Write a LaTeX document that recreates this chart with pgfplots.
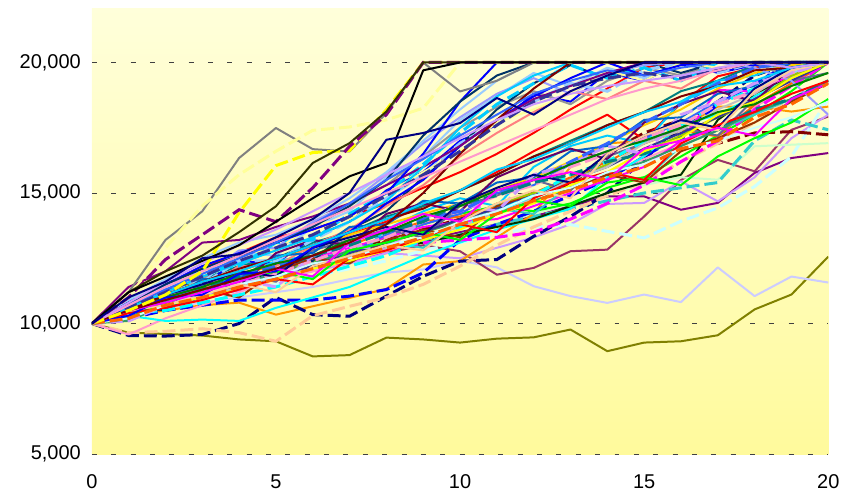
\documentclass[border=0pt]{standalone}
\usepackage{fontspec}
\setmainfont{Liberation Sans}
\usepackage{pgfplots}
\usepackage{pgfplotstable}
\pgfplotsset{compat=1.18}

% colours of the simulated paths
\definecolor{x808000}{HTML}{808000}\definecolor{xCCCCFF}{HTML}{CCCCFF}
\definecolor{x993366}{HTML}{993366}\definecolor{x800080}{HTML}{800080}
\definecolor{xCC99FF}{HTML}{CC99FF}\definecolor{xCCFFFF}{HTML}{CCFFFF}
\definecolor{xCCFFCC}{HTML}{CCFFCC}\definecolor{x800000}{HTML}{800000}
\definecolor{x33CCCC}{HTML}{33CCCC}\definecolor{xFF9900}{HTML}{FF9900}
\definecolor{x000080}{HTML}{000080}\definecolor{x0000FF}{HTML}{0000FF}
\definecolor{xFFCC99}{HTML}{FFCC99}\definecolor{xFF99CC}{HTML}{FF99CC}
\definecolor{x00FFFF}{HTML}{00FFFF}\definecolor{x00FF00}{HTML}{00FF00}
\definecolor{x003300}{HTML}{003300}\definecolor{xFF6600}{HTML}{FF6600}
\definecolor{xFF00FF}{HTML}{FF00FF}\definecolor{xFF0000}{HTML}{FF0000}
\definecolor{x008080}{HTML}{008080}\definecolor{x00CCFF}{HTML}{00CCFF}
\definecolor{x99CCFF}{HTML}{99CCFF}\definecolor{x3366FF}{HTML}{3366FF}
\definecolor{x99CC00}{HTML}{99CC00}\definecolor{xFFCC00}{HTML}{FFCC00}
\definecolor{x666699}{HTML}{666699}\definecolor{x969696}{HTML}{969696}
\definecolor{x003366}{HTML}{003366}\definecolor{x339966}{HTML}{339966}
\definecolor{x993300}{HTML}{993300}\definecolor{x333399}{HTML}{333399}
\definecolor{xFF8080}{HTML}{FF8080}\definecolor{x0066CC}{HTML}{0066CC}
\definecolor{x9999FF}{HTML}{9999FF}\definecolor{xC0C0C0}{HTML}{C0C0C0}
\definecolor{x660066}{HTML}{660066}\definecolor{xFFFF00}{HTML}{FFFF00}
\definecolor{x008000}{HTML}{008000}\definecolor{xFFFF99}{HTML}{FFFF99}
\definecolor{x808080}{HTML}{808080}\definecolor{x333300}{HTML}{333300}
\definecolor{x000000}{HTML}{000000}
\definecolor{bgtop}{HTML}{FFFFDA}
\definecolor{bgbot}{HTML}{FFFA9C}

\tikzset{S/.style={line width=1pt,line join=round},
         D/.style={line width=1.5pt,dash pattern=on 6.5pt off 2.5pt}}

\pgfplotscreateplotcyclelist{mc}{%
color=x808000,S\\ color=xCCCCFF,S\\ color=x993366,S\\ color=x800080,S\\
color=xCC99FF,S\\ color=xCCFFFF,D\\ color=xCCFFCC,S\\ color=x800000,D\\
color=x33CCCC,D\\ color=xFF9900,S\\ color=x000080,D\\ color=x0000FF,D\\
color=xFFCC99,D\\ color=xFF99CC,S\\ color=x00FFFF,S\\ color=x00FF00,S\\
color=x003300,S\\ color=xFF6600,S\\ color=xFF00FF,S\\ color=xFF00FF,D\\
color=xFF0000,S\\ color=xFF0000,S\\ color=x008080,S\\ color=x0000FF,S\\
color=x00CCFF,S\\ color=x99CCFF,S\\ color=x3366FF,S\\ color=x33CCCC,S\\
color=x99CC00,S\\ color=xFFCC00,S\\ color=x666699,S\\ color=x969696,S\\
color=x003366,S\\ color=x339966,S\\ color=x993300,S\\ color=x333399,S\\
color=xFF8080,S\\ color=x0066CC,S\\ color=x9999FF,S\\ color=xC0C0C0,S\\
color=x660066,S\\ color=x00FFFF,D\\ color=x99CCFF,D\\ color=xFF99CC,D\\
color=xCC99FF,D\\ color=x3366FF,D\\ color=x008080,D\\ color=x00CCFF,D\\
color=xFFFF00,S\\ color=x00FF00,S\\ color=x008000,S\\ color=x800000,S\\
color=x000080,S\\ color=xFF0000,S\\ color=xCCFFFF,S\\ color=xFFFF99,S\\
color=xFFCC99,S\\ color=x0000FF,S\\ color=x00CCFF,S\\ color=xFF00FF,S\\
color=xFF6600,D\\ color=x800080,S\\ color=x99CCFF,S\\ color=x0000FF,S\\
color=x00CCFF,S\\ color=x800000,S\\ color=x003366,S\\ color=x3366FF,S\\
color=x333399,D\\ color=xFF99CC,S\\ color=xCC99FF,S\\ color=x808080,S\\
color=xFFFF00,D\\ color=xFFFF99,D\\ color=x800080,D\\ color=x333300,S\\
color=x000000,S\\ color=x000080,S\\
}

% one row per path, values at steps 0..20
\pgfplotstableread[header=false]{
10000 9650 9600 9540 9390 9320 8740 8790 9460 9390 9270 9420 9470 9770 8940 9270 9320 9550 10540 11110 12560
10000 10300 10600 10800 11000 11200 11400 11700 11950 12070 12400 12150 11430 11050 10790 11110 10820 12150 11050 11800 11570
10000 10300 10700 11000 11400 11800 12100 12400 12700 13000 12770 11870 12130 12770 12830 14100 15500 16270 15830 17420 17930
10000 10500 10900 11300 11700 12000 12300 12600 12900 13200 13500 13800 14100 14500 14870 14870 14360 14620 15770 16340 16530
10000 10400 10800 11100 11400 11700 12000 12300 12700 12600 12500 12900 13300 13800 14580 14620 15450 14680 15600 17100 18000
10000 10300 10600 10900 11200 11500 11800 12100 12400 12800 13100 13400 13700 13790 13530 13280 13920 14430 15250 16400 18600
10000 10200 10600 10900 11300 11700 12100 12400 12800 13100 13400 13800 14200 14600 15000 15300 15600 15510 16790 16850 16910
10000 10600 11100 11500 11900 12200 12500 12900 13200 13600 14000 14500 15000 15300 16500 17300 17800 16900 17300 17350 17230
10000 10400 10800 11200 11500 11900 12200 12500 12800 13100 13400 13800 14100 14400 14700 15000 15200 15400 17000 17800 17420
10000 10300 10500 10700 10800 10340 10660 10980 11330 12260 12390 13300 14200 16000 16900 17000 17500 18310 18300 18120 18310
10000 9540 9520 9580 10000 11000 10340 10280 11050 11810 12390 12450 13340 14100 15000 16300 17500 18500 19500 20000 20000
10000 10200 10500 10700 10900 10900 10900 11050 11300 11940 13200 13800 14300 14900 15500 16400 17200 18400 19200 20000 20000
10000 9650 9700 9800 9650 9320 10300 10660 11000 11500 12200 13000 13700 14300 14900 15400 16200 16900 17700 18600 19200
10000 9580 10200 10700 11200 11700 12000 12400 12800 13300 13700 14200 14700 15200 15800 16300 16900 17500 18300 19100 20000
10000 10300 10100 10150 10100 10600 11000 11400 12000 12600 13100 13600 14000 14400 15600 16400 17600 18000 18700 19400 20000
10000 10500 10800 11200 11700 12000 12400 12800 13300 13800 14200 14500 14300 14600 15200 15600 16400 17200 18000 18900 20000
10000 10400 10800 11200 11600 11900 12200 12500 12800 13100 13400 13700 14000 14500 15000 15400 15700 17800 18800 19500 20000
10000 10600 11000 11400 11800 12300 12600 13000 13500 13900 14100 14500 15000 15600 16200 16900 17400 17170 18380 19200 20000
10000 10500 10900 11400 11700 12100 12500 12900 13300 13700 13900 14000 14500 15000 15500 16000 17000 18950 18890 19500 20000
10000 10300 10700 11000 11300 11800 12100 12400 12800 13100 13200 13300 13500 14000 14600 15300 16200 17000 18200 19100 20000
10000 10600 11100 11500 12000 12500 12900 13400 13900 14500 15100 15800 16600 17300 18000 17040 18440 19470 19800 20000 20000
10000 10800 11500 12100 12700 13300 13600 14100 14600 15200 15800 16500 17300 18200 19000 19800 20000 20000 20000 20000 20000
10000 10800 11200 11700 12200 12500 13100 13500 14100 14500 15100 15700 16400 17000 17600 18100 18900 19300 19900 19800 20000
10000 10400 11300 11500 12400 12300 13300 13900 15100 15800 17000 17600 18800 18500 19600 19300 20000 19600 19900 20000 20000
10000 10600 10900 11400 11800 12400 12600 12300 13600 14300 14800 14500 16000 16800 17200 16900 18500 19300 19500 20000 20000
10000 10600 11500 11600 12700 12600 13700 14300 15600 16400 17800 18700 19600 19100 19800 19400 20000 19700 20000 19600 20000
10000 10500 10800 11300 11400 12000 12500 12700 13400 13800 14200 15000 15300 16100 16600 17100 17700 18500 18900 19900 20000
10000 10300 11000 11300 11700 12000 12300 12800 13100 12900 13900 14400 14200 15300 15800 15500 16800 17400 18000 18600 19300
10000 10400 10700 11200 11500 11900 12400 12600 13100 13500 13900 14600 15000 15500 16100 16600 17200 17900 18500 19500 20000
10000 10500 11200 11600 12000 12500 12900 13400 13800 14200 14600 15100 15600 16200 16900 17600 18200 19000 19600 19900 20000
10000 10700 11000 11400 11900 11600 12800 13200 13600 13300 14500 14900 15500 15100 16400 16900 17500 17200 18600 19300 19600
10000 10700 11600 11700 12700 12800 13800 14600 15300 16400 17500 18300 18900 18400 19300 19800 19500 20000 20000 19400 20000
10000 10600 10500 11300 11400 12300 12400 13600 14300 15600 16800 18200 19200 19900 19400 20000 19600 20000 20000 20000 20000
10000 10100 10700 11200 11500 11900 12300 12800 13100 13500 13900 14300 14700 15200 15700 16200 16800 17400 18100 18600 19300
10000 10800 10900 11300 11000 12000 12500 12300 13200 13600 13300 14500 14900 15200 15700 15400 16600 17100 17700 18500 19200
10000 10400 10600 11000 11400 11800 12200 12700 13100 13500 14000 14400 14900 15500 16000 16700 17300 17900 18600 19300 20000
10000 10500 11300 11300 12200 12200 13000 13600 14500 15300 16400 17300 18100 18900 18600 19300 19000 19800 20000 19800 20000
10000 10600 10800 11700 11700 12600 12700 13700 13800 14700 14600 15400 15600 16600 16800 17800 17900 18800 19100 20000 20000
10000 10600 11600 11800 12800 12900 13900 14600 15700 16900 17900 18800 19400 18800 19600 19900 20000 20000 19800 19300 18000
10000 10500 10700 11000 11400 11800 12100 12500 12900 13300 13700 14300 14800 15500 16000 16900 17400 18200 18800 19700 20000
10000 10400 11100 11600 11400 12700 13200 13000 14200 14600 14300 15600 16200 16700 16300 17700 18400 18900 18500 19800 20000
10000 10400 10500 10800 11100 11400 11800 12200 12600 13200 13700 14300 14900 15700 16200 17000 17600 18400 19000 19800 20000
10000 10400 11400 11500 12400 12400 13200 13900 14800 15700 16900 17700 18500 19200 18900 19700 20000 19600 20000 20000 20000
10000 10600 10800 11200 11500 11900 12400 12900 13300 13900 14300 14900 15300 16000 16500 17100 17600 18400 18900 19600 20000
10000 10100 10700 11200 11700 11400 12600 13000 12800 14000 14600 14300 15700 16100 16800 16500 18000 18500 19200 19600 20000
10000 10700 11000 11400 11800 12200 12600 13100 13500 14000 14300 15000 15400 16200 16900 17700 18400 19200 19800 20000 20000
10000 10200 10800 11300 11800 12100 12600 13000 13500 13900 14600 14900 15400 15700 16200 16500 17100 17500 18200 18600 19300
10000 10900 11100 12100 12200 13100 13200 14200 15000 16100 17300 18400 19200 19900 19400 19800 19300 20000 20000 20000 20000
10000 10500 10700 11000 11300 11700 12100 12400 12800 13200 13600 14200 14600 15300 15800 16600 17100 18000 18500 19400 20000
10000 10200 10800 11300 11700 12000 11700 12800 13100 13500 13200 14200 14700 14500 15400 15600 15300 16400 17100 17700 18600
10000 10700 11000 11400 11900 12300 12600 13200 13500 14100 14500 15100 15500 16100 16600 17000 17500 18100 18400 19100 19600
10000 10500 11100 11600 12100 12500 13000 13500 14000 14400 15100 15700 16400 16900 17600 18100 18700 19100 19700 19800 20000
10000 10800 11100 11500 12000 11800 12900 13300 13700 13400 14600 15200 15700 15400 16500 17200 17800 17500 19000 19800 20000
10000 10400 10600 10900 11300 11700 11500 12500 12800 13300 13800 13500 14800 15400 15800 15500 16900 17600 18100 18800 19300
10000 10200 10700 11100 11500 11800 12300 12500 13000 13300 13900 14300 14900 15200 15800 16100 16700 17000 17500 17900 18500
10000 10600 11700 11800 12700 12800 13800 14000 15000 15800 16600 17700 18200 18800 19700 19300 20000 19800 20000 20000 20000
10000 10500 10700 11100 11500 11200 12200 12600 13000 12800 13900 14600 15100 14800 16500 17200 17700 17400 18900 19700 20000
10000 10300 11000 11100 11900 12000 12900 13500 14600 15500 16800 17800 18700 19400 20000 19500 19900 20000 20000 20000 20000
10000 10800 11100 11600 12000 12500 13000 13500 14000 14600 15100 15900 16300 16900 17500 18100 18500 19100 19300 19800 20000
10000 10500 10800 11200 11600 12100 11800 13100 13600 14200 13900 15100 15500 15800 15500 16700 17000 17500 17200 18600 19200
10000 10200 10700 11000 11400 11700 12100 12500 12900 13300 13800 14200 14700 15100 15600 16000 16700 17000 17900 18400 19200
10000 11400 12000 13100 13200 13700 14100 14600 15300 16000 16800 17800 18600 19100 19600 20000 20000 20000 20000 20000 20000
10000 10900 11700 12500 13100 13400 14000 14800 15800 17000 18200 19300 20000 20000 20000 20000 20000 20000 20000 20000 20000
10000 10800 11500 12200 12700 13100 13600 14100 15000 16500 18500 20000 20000 20000 20000 20000 20000 20000 20000 20000 20000
10000 10600 11200 11800 12300 12800 13300 13900 14700 16000 17500 18700 19500 20000 20000 20000 20000 20000 20000 20000 20000
10000 10500 10900 11300 11700 12100 12600 13100 13800 15000 16500 17800 19000 20000 20000 20000 20000 20000 20000 20000 20000
10000 10800 11500 12100 12600 13100 13700 14500 15500 17200 18500 19500 20000 20000 20000 20000 20000 20000 20000 20000 20000
10000 10700 11300 11900 12500 13100 13800 14600 15500 16300 17200 18000 18800 19300 19700 19500 19800 20000 20000 20000 20000
10000 10600 11200 11800 12400 12900 13400 14100 14900 15700 16600 17600 18500 19100 19400 19600 19400 19700 20000 20000 20000
10000 10700 11400 12000 12600 13200 13800 14400 15000 15600 16200 16800 17400 18000 18600 19000 19300 19700 20000 20000 20000
10000 10800 11600 12300 13000 13600 14300 15000 15700 16400 17100 17800 18400 18800 19100 19300 19500 19800 20000 19800 20000
10000 11200 13200 14300 16340 17490 16680 16590 18060 20000 18890 19300 20000 20000 20000 20000 20000 20000 20000 20000 20000
10000 10500 11100 12000 14250 16050 16550 16630 18190 20000 20000 20000 20000 20000 20000 20000 20000 20000 20000 20000 20000
10000 11000 12900 14500 15700 16600 17400 17530 17800 18250 20000 20000 20000 20000 20000 20000 20000 20000 20000 20000 20000
10000 11000 12450 13400 14360 13900 15200 16790 18000 20000 20000 20000 20000 20000 20000 20000 20000 20000 20000 20000 20000
10000 11200 12000 12600 13500 14490 16150 16910 18120 20000 20000 20000 20000 20000 20000 20000 20000 20000 20000 20000 20000
10000 11200 11800 12400 13000 13900 14800 15640 16150 19700 20000 20000 20000 20000 20000 20000 20000 20000 20000 20000 20000
10000 11000 11600 12500 12650 13300 14000 15000 17040 17300 17680 18640 18000 18900 19500 20000 20000 20000 20000 20000 20000
}\rawpaths
\pgfplotstabletranspose\paths\rawpaths

\begin{document}
\begin{tikzpicture}
\begin{axis}[
  width=369pt, height=223pt, scale only axis,
  xmin=0, xmax=20, ymin=5000, ymax=22050,
  xtick={0,5,10,15,20},
  ytick={5000,10000,15000,20000},
  scaled y ticks=false,
  axis line style={draw=none},
  major tick length=0pt,
  ymajorgrids,
  grid style={black!75, line width=0.5pt, dash pattern=on 2.5pt off 7.2pt},
  tick label style={font=\fontsize{10}{12}\selectfont},
  /pgf/number format/1000 sep={,},
  /pgf/number format/assume math mode=true,
  xticklabel style={yshift=-7pt},
  yticklabel style={xshift=-2pt},
  axis background/.style={shade, top color=bgtop, bottom color=bgbot},
  no markers,
  cycle list name=mc,
]
\pgfplotsinvokeforeach{0,...,77}{
  \addplot table[x=colnames, y=#1] {\paths};
}
\end{axis}
\path ([shift={(-46pt,-21pt)}]current axis.south west)
  rectangle ([shift={(8pt,4.5pt)}]current axis.north east);
\end{tikzpicture}
\end{document}
